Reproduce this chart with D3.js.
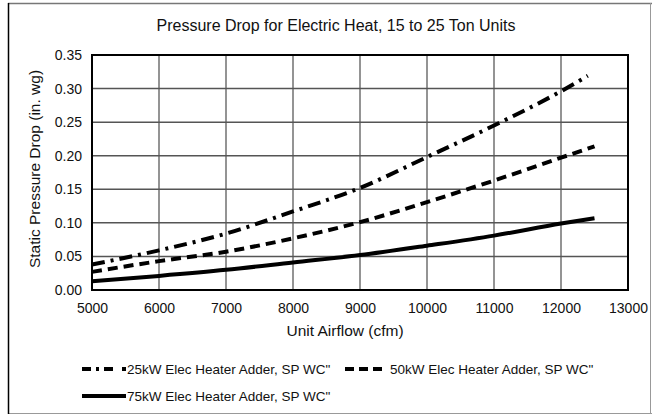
<!DOCTYPE html>
<html>
<head>
<meta charset="utf-8">
<script src="https://cdn.jsdelivr.net/npm/d3@7"></script>
<style>
  html, body { margin: 0; padding: 0; background: #fff; }
  svg { display: block; font-family: "Liberation Sans", Arial, sans-serif; }
</style>
</head>
<body>
<svg id="chart" width="652" height="416"></svg>
<script>
// Airflow sample points (cfm) and pressure drops (in. wg) per heater size
const airflow = [5000, 6000, 7000, 8000, 9000, 10000, 11000, 12000];
const kw25 = [0.038, 0.059, 0.084, 0.117, 0.152, 0.198, 0.245, 0.296];
const kw50 = [0.027, 0.043, 0.057, 0.077, 0.101, 0.131, 0.163, 0.197];
const kw75 = [0.013, 0.021, 0.030, 0.041, 0.052, 0.066, 0.081, 0.099];
// last points of each curve
const endAirflow = [12400, 12500, 12500];
const endValues = [0.319, 0.214, 0.107];

const seriesNames = [
  "25kW Elec Heater Adder, SP WC\"",
  "50kW Elec Heater Adder, SP WC\"",
  "75kW Elec Heater Adder, SP WC\""
];
const xTicks = [5000, 6000, 7000, 8000, 9000, 10000, 11000, 12000, 13000];
const yTicks = [0, 0.05, 0.10, 0.15, 0.20, 0.25, 0.30, 0.35];

const title = "Pressure Drop for Electric Heat, 15 to 25 Ton Units";
const xTitle = "Unit Airflow (cfm)";
const yTitle = "Static Pressure Drop (in. wg)";

const dashes = ["13,6,3,6", "10,6", null];
const legendDashes = ["9,5,3,5,9", "9,5,9,5,9", null];

const svg = d3.select("#chart");
const W = 652, H = 416;
const m = { left: 92, right: 628, top: 55, bottom: 290 };

// outer frame
svg.append("line").attr("x1", 8).attr("x2", W).attr("y1", 3.5).attr("y2", 3.5)
  .attr("stroke", "#777").attr("stroke-width", 1.5);
svg.append("line").attr("x1", 650.5).attr("x2", 650.5).attr("y1", 3).attr("y2", 414)
  .attr("stroke", "#999").attr("stroke-width", 1);
svg.append("line").attr("x1", 8).attr("x2", W).attr("y1", 413.5).attr("y2", 413.5)
  .attr("stroke", "#999").attr("stroke-width", 1);
svg.append("line").attr("x1", 8.5).attr("x2", 8.5).attr("y1", 3).attr("y2", 414)
  .attr("stroke", "#000").attr("stroke-width", 1.5);

const x = d3.scaleLinear().domain([5000, 13000]).range([m.left, m.right]);
const y = d3.scaleLinear().domain([0, 0.35]).range([m.bottom, m.top]);

// grid
svg.append("g").selectAll("line").data(xTicks.slice(1, -1)).join("line")
  .attr("x1", d => x(d)).attr("x2", d => x(d)).attr("y1", m.top).attr("y2", m.bottom)
  .attr("stroke", "#707070").attr("stroke-width", 1.5);
svg.append("g").selectAll("line").data(yTicks.slice(1, -1)).join("line")
  .attr("x1", m.left).attr("x2", m.right).attr("y1", d => y(d)).attr("y2", d => y(d))
  .attr("stroke", "#555").attr("stroke-width", 1.5);

// plot frame
svg.append("rect").attr("x", m.left).attr("y", m.top)
  .attr("width", m.right - m.left).attr("height", m.bottom - m.top)
  .attr("fill", "none").attr("stroke", "#000").attr("stroke-width", 2);

// axes (labels only)
const xAxis = svg.append("g").attr("transform", `translate(0,${m.bottom})`)
  .call(d3.axisBottom(x).tickValues(xTicks).tickFormat(d3.format("d")).tickSize(0));
const yAxis = svg.append("g").attr("transform", `translate(${m.left},0)`)
  .call(d3.axisLeft(y).tickValues(yTicks).tickFormat(d3.format(".2f")).tickSize(0).tickPadding(10));
[xAxis, yAxis].forEach(a => {
  a.select(".domain").remove();
  a.selectAll("text").attr("font-size", 14).attr("fill", "#111")
    .attr("font-family", "Liberation Sans, Arial, sans-serif");
});
xAxis.selectAll("text").attr("y", 22.5).attr("dy", 0);

// titles
svg.append("text").attr("x", 336).attr("y", 31).attr("text-anchor", "middle")
  .attr("font-size", 16).attr("fill", "#111").text(title);
svg.append("text").attr("x", 345).attr("y", 336).attr("text-anchor", "middle")
  .attr("font-size", 15.5).attr("fill", "#111").text(xTitle);
svg.append("text").attr("transform", `translate(40,169) rotate(-90)`)
  .attr("text-anchor", "middle").attr("font-size", 15.5).attr("fill", "#111").text(yTitle);

// curves
const series = [kw25, kw50, kw75].map((vals, i) => {
  const pts = airflow.map((a, j) => [a, vals[j]]);
  pts.push([endAirflow[i], endValues[i]]);
  return pts;
});
const line = d3.line().x(d => x(d[0])).y(d => y(d[1])).curve(d3.curveMonotoneX);
series.forEach((pts, i) => {
  svg.append("path").attr("d", line(pts)).attr("fill", "none")
    .attr("stroke", "#000").attr("stroke-width", 4)
    .attr("stroke-dasharray", dashes[i]);
});

// legend
const legendItems = [
  { x: 82, y: 369 }, { x: 345, y: 369 }, { x: 82, y: 396 }
];
legendItems.forEach((p, i) => {
  svg.append("line").attr("x1", p.x).attr("x2", p.x + 44).attr("y1", p.y).attr("y2", p.y)
    .attr("stroke", "#000").attr("stroke-width", 4)
    .attr("stroke-dasharray", legendDashes[i]);
  svg.append("text").attr("x", p.x + 45).attr("y", p.y + 5)
    .attr("font-size", 13.5).attr("fill", "#111").text(seriesNames[i]);
});
</script>
</body>
</html>
